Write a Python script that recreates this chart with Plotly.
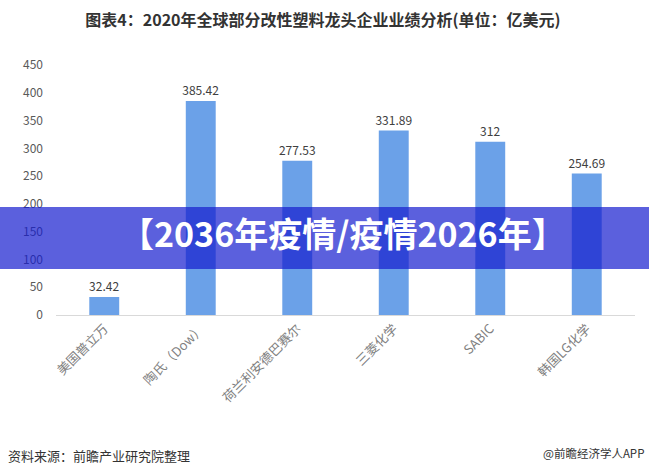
import plotly.graph_objects as go

categories = ["美国普立万", "陶氏（Dow）", "荷兰利安德巴赛尔", "三菱化学", "SABIC", "韩国LG化学"]
values = [32.42, 385.42, 277.53, 331.89, 312, 254.69]
value_labels = ["32.42", "385.42", "277.53", "331.89", "312", "254.69"]
y_ticks = [0, 50, 100, 150, 200, 250, 300, 350, 400, 450]

W, H = 649, 476
L, R, T, B = 56, 14, 65, 161
PW, PH = W - L - R, H - T - B

def px_x(px):
    return (px - L) / PW

def px_y(py):
    return (H - B - py) / PH

CJK = "Noto Sans CJK SC, Microsoft YaHei, sans-serif"

fig = go.Figure()
fig.add_trace(go.Bar(
    x=categories, y=values,
    marker=dict(color="#6ba1e8", line=dict(width=0)),
    width=0.31,
    text=value_labels, textposition="outside", constraintext="none",
    textfont=dict(family=CJK, size=12, color="#404040"),
    cliponaxis=False,
))

fig.update_layout(
    width=W, height=H,
    margin=dict(l=L, r=R, t=T, b=B),
    paper_bgcolor="white", plot_bgcolor="white",
    showlegend=False,
    title=dict(
        text="图表4：2020年全球部分改性塑料龙头企业业绩分析(单位：亿美元)",
        x=px_x(323), xanchor="center", xref="paper",
        y=1 - 20.5 / H, yanchor="middle", yref="container",
        font=dict(family=CJK, size=16, color="#333333", weight="bold"),
    ),
    xaxis=dict(
        showgrid=False, showline=True, linecolor="#d9d9d9", linewidth=1,
        tickangle=-45, ticks="",
        tickfont=dict(family=CJK, size=13, color="#7f7f7f"),
        zeroline=False,
    ),
    yaxis=dict(
        range=[0, 450], tickvals=y_ticks, showgrid=False, showline=False,
        zeroline=False, ticks="", ticklabelstandoff=12,
        tickfont=dict(family=CJK, size=12, color="#595959"),
    ),
    bargap=0.69,
)

# banner overlay
fig.add_shape(type="rect", xref="paper", yref="paper",
              x0=px_x(-2), x1=px_x(W + 2), y0=px_y(269), y1=px_y(207),
              fillcolor="rgba(21,29,206,0.7)", line=dict(width=0), layer="above")
fig.add_annotation(text="【2036年疫情/疫情2026年】", xref="paper", yref="paper",
                   x=px_x(343), y=px_y(259), showarrow=False,
                   font=dict(family=CJK, size=34, color="white", weight="bold"))

# footer
fig.add_annotation(text="资料来源：前瞻产业研究院整理", xref="paper", yref="paper",
                   x=px_x(6), y=px_y(455), xanchor="left", yanchor="middle", showarrow=False,
                   font=dict(family=CJK, size=13, color="#333333"))
fig.add_annotation(text="@前瞻经济学人APP", xref="paper", yref="paper",
                   x=px_x(646), y=px_y(453), xanchor="right", yanchor="middle", showarrow=False,
                   font=dict(family=CJK, size=11.5, color="#333333"))

fig.write_html("out.html", config={"displayModeBar": False},
               post_script="document.body.style.margin='0';document.body.style.overflow='hidden';")
